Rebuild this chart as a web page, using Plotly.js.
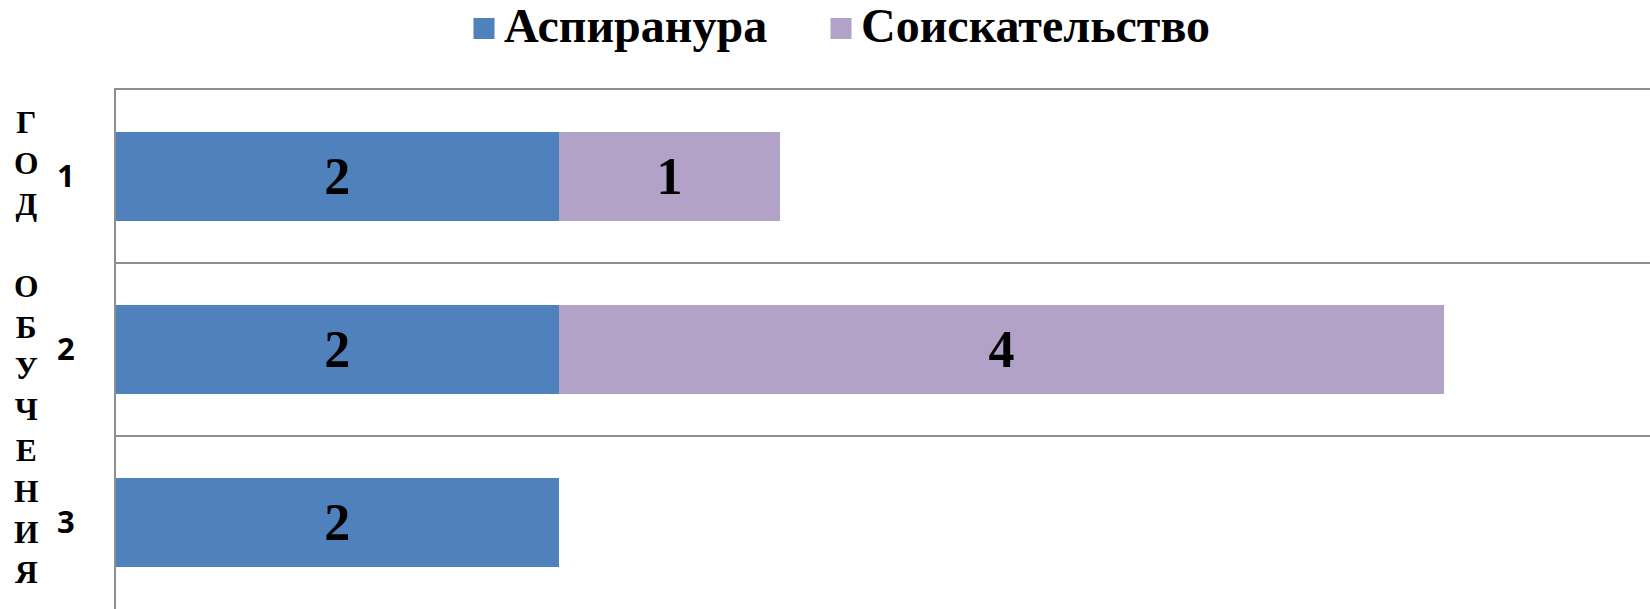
<!DOCTYPE html>
<html>
<head>
<meta charset="utf-8">
<script src="https://cdn.plot.ly/plotly-3.0.1.min.js"></script>
<style>
  html, body { margin: 0; padding: 0; background: #ffffff; overflow: hidden; }
  #chart { width: 1650px; height: 609px; }
</style>
</head>
<body>
<div id="chart"></div>
<script>
// ---- Data ----
const categories = ['1', '2', '3'];
const seriesNames = ['Аспиранура', 'Соискательство'];
const aspirantura = [2, 2, 2];
const soiskatelstvo = [1, 4, null];
const axisTitleLetters = ['Г', 'О', 'Д', '\u00a0', 'О', 'Б', 'У', 'Ч', 'Е', 'Н', 'И', 'Я'];

// ---- Styles ----
const colors = ['#4F81BD', '#B3A2C7'];
const gridColor = '#8e8e8e';
const serif = 'Liberation Serif, Times New Roman, serif';
const labelFont = { family: serif, size: 52, color: '#000000', weight: 'bold' };

function barTrace(name, values, color) {
  return {
    type: 'bar',
    orientation: 'h',
    name: name,
    y: categories,
    x: values,
    text: values.map(v => (v === null ? '' : String(v))),
    textposition: 'inside',
    insidetextanchor: 'middle',
    textangle: 0,
    textfont: labelFont,
    marker: { color: color, line: { width: 0 } },
    showlegend: false,
    hoverinfo: 'x+name'
  };
}

// legend entries (one per series), each in its own legend box
function legendTrace(name, color, legendId) {
  return {
    type: 'scatter',
    mode: 'markers',
    name: '<span style="font-size:48px">' + name + '</span>',
    legend: legendId,
    x: [null],
    y: [null],
    marker: { symbol: 'square', size: 16, color: color, line: { color: color, width: 5 } },
    showlegend: true,
    hoverinfo: 'skip'
  };
}

const data = [
  barTrace(seriesNames[0], aspirantura, colors[0]),
  barTrace(seriesNames[1], soiskatelstvo, colors[1]),
  legendTrace(seriesNames[0], colors[0], 'legend'),
  legendTrace(seriesNames[1], colors[1], 'legend2')
];

function legendBox(xPix) {
  return {
    orientation: 'h',
    xref: 'container',
    yref: 'container',
    x: xPix / 1650,
    xanchor: 'left',
    y: 1,
    yanchor: 'top',
    font: { family: serif, size: 34, color: '#000000', weight: 'bold' },
    bgcolor: 'rgba(0,0,0,0)',
    borderwidth: 0
  };
}

const layout = {
  width: 1650,
  height: 609,
  margin: { l: 116, r: 0, t: 90, b: 0, pad: 0, autoexpand: false },
  paper_bgcolor: '#ffffff',
  plot_bgcolor: '#ffffff',
  barmode: 'stack',
  bargap: 0.48,
  showlegend: true,
  legend: legendBox(464),
  legend2: legendBox(821),
  xaxis: {
    range: [0, 6.93],
    side: 'top',
    showgrid: false,
    zeroline: false,
    showline: true,
    linecolor: gridColor,
    linewidth: 2,
    showticklabels: false,
    ticks: ''
  },
  yaxis: {
    type: 'category',
    range: [2.5, -0.5],
    tickson: 'boundaries',
    showgrid: true,
    gridcolor: gridColor,
    gridwidth: 2,
    showline: true,
    linecolor: gridColor,
    linewidth: 2,
    ticks: '',
    ticklabelstandoff: 33,
    tickfont: { family: 'Open Sans, Liberation Sans, sans-serif', size: 31, color: '#000000', weight: 'bold' },
    zeroline: false
  },
  annotations: [{
    xref: 'paper',
    yref: 'paper',
    x: (26 - 116) / (1650 - 116),
    y: 0.503,
    xanchor: 'center',
    yanchor: 'middle',
    showarrow: false,
    align: 'center',
    text: axisTitleLetters.join('<br>'),
    font: { family: serif, size: 31.5, color: '#000000', weight: 'bold' }
  }]
};

Plotly.newPlot('chart', data, layout, { displayModeBar: false, staticPlot: true });
</script>
</body>
</html>
